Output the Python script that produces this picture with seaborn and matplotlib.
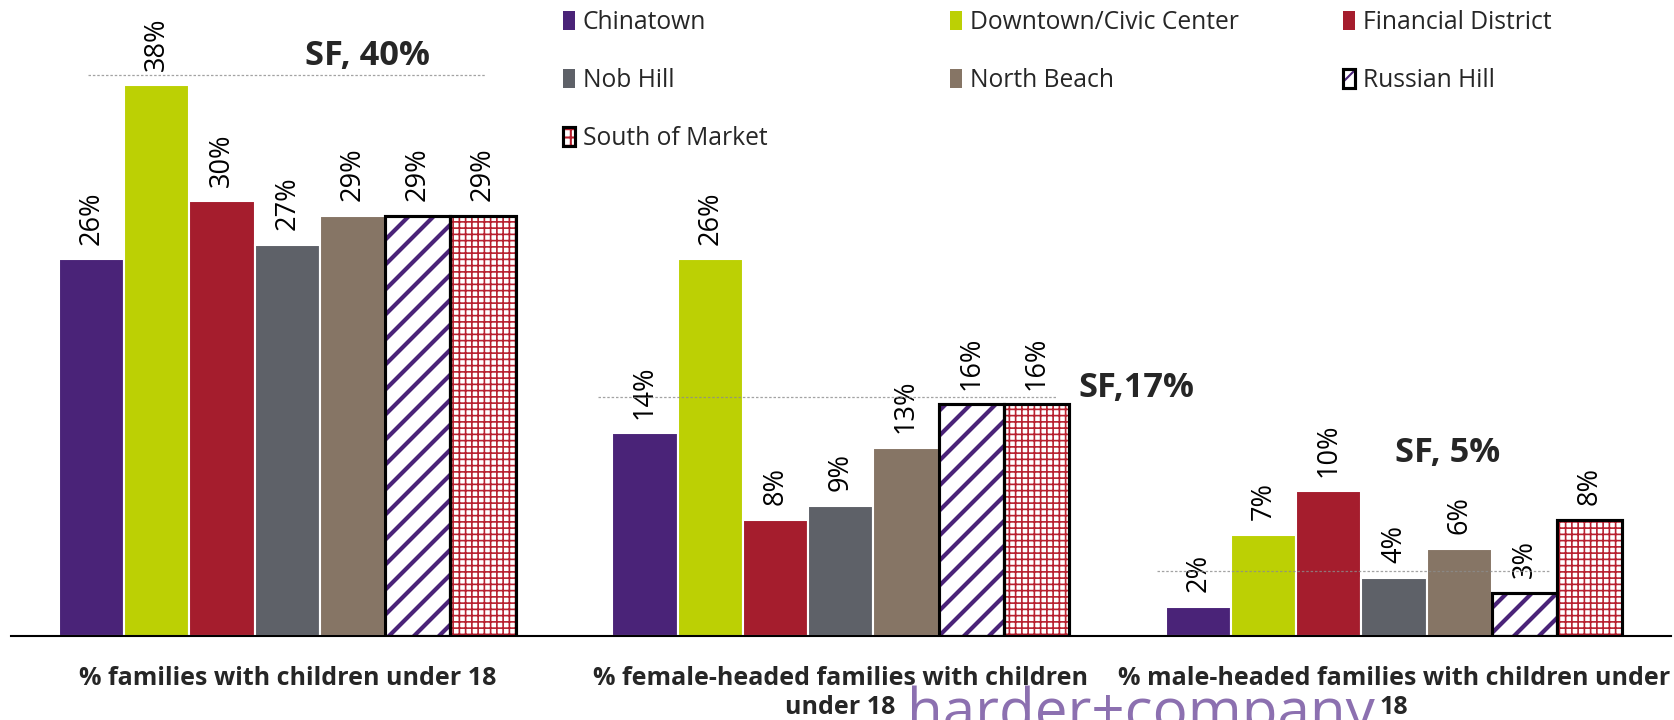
import numpy as np
import pandas as pd
import matplotlib.pyplot as plt
import matplotlib.patches as mpatches
import seaborn as sns

# estilo limpo: fundo branco, sem grade
sns.set_theme(style="white")
plt.rcParams['font.family'] = ['Open Sans', 'DejaVu Sans']

#%% dados
categorias = ['% families with children under 18',
              '% female-headed families with children\nunder 18',
              '% male-headed families with children under\n18']
bairros = ['Chinatown', 'Downtown/Civic Center', 'Financial District', 'Nob Hill',
           'North Beach', 'Russian Hill', 'South of Market']
cores = ['#4a2378', '#bcd004', '#a51d2d', '#5e6168', '#867565', '#ffffff', '#ffffff']
fam_criancas = [26, 38, 30, 27, 29, 29, 29]
fam_mae = [14, 26, 8, 9, 13, 16, 16]
fam_pai = [2, 7, 10, 4, 6, 3, 8]
sf_total = [40, 17, 5]
sf_linha = [38.7, 16.5, 4.5]  # altura da linha pontilhada de SF

df = pd.DataFrame({
    'categoria': np.repeat(categorias, len(bairros)),
    'bairro': bairros * len(categorias),
    'valor': fam_criancas + fam_mae + fam_pai,
})

roxo = '#4a2378'
vermelho = '#b8202f'

#%% grafico
fig = plt.figure(figsize=(11.16, 4.8), dpi=150)
ax = fig.add_axes([0.0063, 0.1167, 0.9918, 0.8833])

sns.barplot(data=df, x='categoria', y='valor', hue='bairro', hue_order=bairros,
            palette=dict(zip(bairros, cores)), width=0.825, saturation=1,
            errorbar=None, legend=False, ax=ax)

# barras com textura (Russian Hill e South of Market)
texturas = {5: ('//', roxo, 2.0), 6: ('++++', vermelho, 0.8)}
for i, (hatch, cor, lw) in texturas.items():
    for barra in ax.containers[i]:
        barra.set_hatch(hatch)
        barra.set_edgecolor(cor)
        barra.set_linewidth(0)
        if hasattr(barra, 'set_hatch_linewidth'):
            barra.set_hatch_linewidth(lw)
        ax.add_patch(mpatches.Rectangle(barra.get_xy(), barra.get_width(), barra.get_height(),
                                        fill=False, edgecolor='black', linewidth=1.5,
                                        zorder=barra.get_zorder() + 0.1))

# rotulos das barras
for cont in ax.containers:
    ax.bar_label(cont, fmt='%d%%', rotation=90, padding=7, fontsize=13, color='black')

# linhas de referencia de SF
extensoes = [(-0.36, 0.36), (0.562, 1.391), (1.572, 2.282)]
for y, (x0, x1) in zip(sf_linha, extensoes):
    ax.hlines(y, x0, x1, colors='#8c8c8c', linestyles=(0, (2, 1.5)), linewidth=0.6,
              alpha=0.8, zorder=5)

sf_rotulos = [f'SF, {sf_total[0]}%', f'SF,{sf_total[1]}%', f'SF, {sf_total[2]}%']
posicoes = [(0.145, 40.0), (1.534, 17.1), (2.096, 12.6)]
for txt, (x, y) in zip(sf_rotulos, posicoes):
    ax.text(x, y, txt, ha='center', va='center', fontsize=16.5, fontweight='bold')

ax.set_xlim(-0.5, 2.5)
ax.set_ylim(0, 43.9)
ax.set_yticks([])
ax.set_xlabel('')
ax.set_ylabel('')
for lado in ['top', 'left', 'right']:
    ax.spines[lado].set_visible(False)
ax.spines['bottom'].set_color('black')
ax.spines['bottom'].set_linewidth(1)
ax.tick_params(axis='x', length=0, pad=14.5, labelsize=12)
for rot in ax.get_xticklabels():
    rot.set_fontweight('bold')
    rot.set_linespacing(1.2)

# legenda em tres colunas (uma legenda por coluna)
def handle(i):
    if i == 5:
        p = mpatches.Patch(facecolor='white', edgecolor=roxo, hatch='//', linewidth=0)
    elif i == 6:
        p = mpatches.Patch(facecolor='white', edgecolor=vermelho, hatch='+++', linewidth=0)
    else:
        return mpatches.Patch(facecolor=cores[i], linewidth=0)
    if hasattr(p, 'set_hatch_linewidth'):
        p.set_hatch_linewidth(1.6 if i == 5 else 1.0)
    return (p, mpatches.Patch(fill=False, edgecolor='black', linewidth=1.5))

colunas = [([0, 3, 6], 563), ([1, 4], 950), ([2, 5], 1343)]
for idx, xpix in colunas:
    fig.legend([handle(i) for i in idx], [bairros[i] for i in idx],
               loc='upper left', bbox_to_anchor=(xpix / 1674, 0.986),
               frameon=False, fontsize=11.8, borderaxespad=0, borderpad=0,
               handlelength=0.5, handleheight=0.8, handletextpad=0.3, labelspacing=1.34)

# marca d'agua
fig.text(907 / 1674, 1 - 730 / 720, 'harder+company', fontsize=28, color='#8c70b0',
         ha='left', va='baseline')

fig.savefig('out.png', dpi=150)
